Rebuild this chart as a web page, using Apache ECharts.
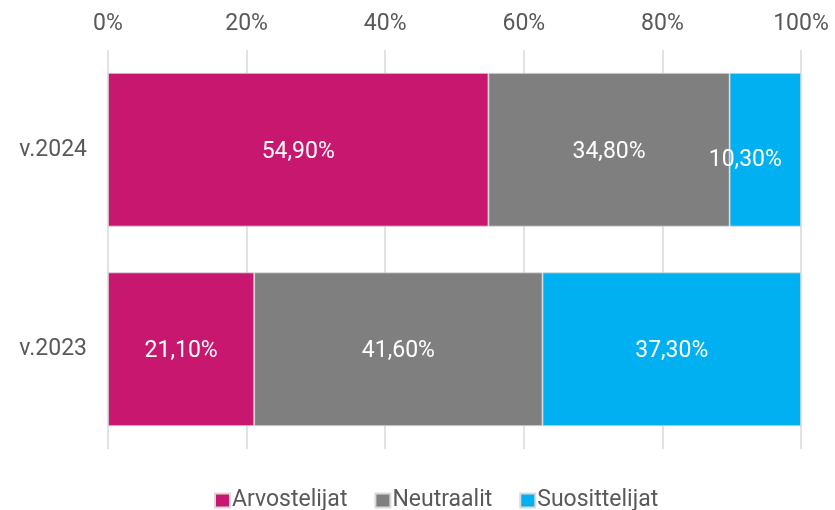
<!DOCTYPE html>
<html>
<head>
<meta charset="utf-8">
<script src="https://cdn.jsdelivr.net/npm/echarts@6/dist/echarts.min.js"></script>
<style>
  html, body { margin: 0; padding: 0; background: #fff; }
  #chart { width: 835px; height: 510px; }
</style>
</head>
<body>
<div id="chart"></div>
<script>
// vuodet ja sarjat
const years = ['v.2024', 'v.2023']
const seriesNames = ['Arvostelijat', 'Neutraalit', 'Suosittelijat']
const arvostelijat = [54.9, 21.1]
const neutraalit = [34.8, 41.6]
const suosittelijat = [10.3, 37.3]
const xTicks = [0, 20, 40, 60, 80, 100]

const colors = ['#C8176F', '#7F7F7F', '#00B0F0']
const font = 'Roboto, "Liberation Sans", sans-serif'

function fmt (v) {
  return v.toFixed(2).replace('.', ',') + '%'
}

function makeSeries (name, data, color, idx) {
  return {
    name: name,
    type: 'bar',
    stack: 'total',
    barCategoryGap: '23%',
    itemStyle: { color: color, borderColor: '#d9d9d9', borderWidth: 0.8 },
    label: {
      show: true,
      position: 'inside',
      color: '#fff',
      fontFamily: font,
      fontSize: 23,
      offset: [0, 2],
      formatter: p => fmt(p.value)
    },
    data: data.map((v, i) => {
      // pieni arvo: label vähän sivuun kuten alkuperäisessä
      if (idx === 2 && v < 15) {
        return { value: v, label: { offset: [-20, 10] } }
      }
      return v
    })
  }
}

const chart = echarts.init(document.getElementById('chart'))
chart.setOption({
  animation: false,
  textStyle: { fontFamily: font },
  grid: { left: 108, right: 34, top: 50, bottom: 61 },
  legend: {
    left: 214,
    bottom: -2,
    padding: 0,
    itemWidth: 15,
    itemHeight: 14,
    itemGap: 27,
    icon: 'rect',
    textStyle: { fontSize: 23, color: '#595959', fontFamily: font, padding: [0, 0, 0, -3] },
    data: seriesNames
  },
  xAxis: {
    type: 'value',
    position: 'top',
    min: 0,
    max: 100,
    interval: 20,
    axisLine: { show: false },
    axisTick: { show: false },
    axisLabel: {
      margin: 14,
      fontSize: 23,
      color: '#595959',
      formatter: v => xTicks.includes(v) ? v + '%' : ''
    },
    splitLine: { lineStyle: { color: '#d9d9d9', width: 1.5 } }
  },
  yAxis: {
    type: 'category',
    inverse: true,
    data: years,
    axisLine: { show: false },
    axisTick: { show: false },
    axisLabel: { margin: 21, fontSize: 23, color: '#595959' }
  },
  series: [
    makeSeries(seriesNames[0], arvostelijat, colors[0], 0),
    makeSeries(seriesNames[1], neutraalit, colors[1], 1),
    makeSeries(seriesNames[2], suosittelijat, colors[2], 2)
  ]
})
</script>
</body>
</html>
